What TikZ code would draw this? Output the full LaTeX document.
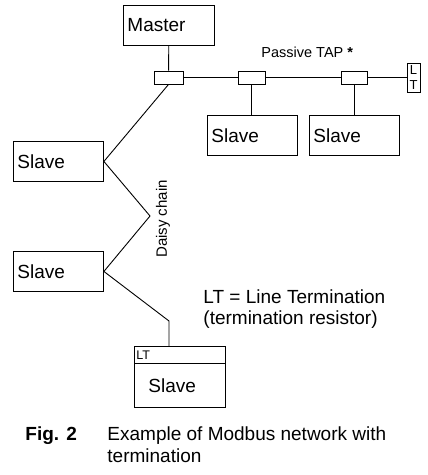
\documentclass[tikz,border=0pt]{standalone}
\usepackage{fontspec}
\setmainfont{Liberation Sans}
\begin{document}
\begin{tikzpicture}[x=1pt,y=-1pt,line width=0.9pt,
	box/.style={draw,rectangle,minimum height=40pt,text width=83pt,inner xsep=4pt,align=left,font=\fontsize{19}{22}\selectfont},
	tap/.style={draw,rectangle,minimum height=13pt,inner sep=0pt},
	note/.style={font=\fontsize{19}{22}\selectfont,inner sep=0pt}]
		\useasboundingbox (0,0) rectangle (428,475);
		\coordinate (zigA) at (150,216);
		\coordinate (zigB) at (169,321);
		\node[box,anchor=north west] (master) at (123,5) {Master};
		\node[tap,minimum width=29pt] (tapA) at (168.5,77.5) {};
		\node[tap,minimum width=27pt] (tapB) at (251.5,77.5) {};
		\node[tap,minimum width=26pt] (tapC) at (354,77.5) {};
		\node[draw,inner sep=0pt,align=center,minimum width=13pt,minimum height=29pt,font=\fontsize{13}{14.5}\selectfont] (lt) at (413.5,77.5) {L\\T};
		\node[box,anchor=north west,text width=82pt] (slaveB) at (207,115) {Slave};
		\node[box,anchor=north west,text width=82pt] (slaveC) at (309,115) {Slave};
		\node[box,anchor=north west,text width=82pt] (slaveD) at (13,141) {Slave};
		\node[box,anchor=north west,text width=82pt] (slaveE) at (13,251) {Slave};
		\node[draw,anchor=north west,minimum height=17pt,text width=87pt,inner xsep=2pt,inner ysep=1pt,align=left,font=\fontsize{12.5}{14}\selectfont] (termhead) at (134,346) {LT};
		\node[box,draw=none,anchor=north,minimum height=43pt,text width=63pt,inner xsep=14pt] (term) at (termhead.south) {Slave};
		\draw (termhead.south west) |- (term.south east) -- (termhead.south east);
		\draw (master) to (tapA);
		\draw (tapA) to (tapB);
		\draw (tapB) to (tapC);
		\draw (tapC) to (lt);
		\draw (tapB) to (tapB |- slaveB.north);
		\draw (tapC) to (tapC |- slaveC.north);
		\draw (tapA.south) to (slaveD.east) to (zigA) to (slaveE.east) to (zigB) to (zigB |- termhead.north);
		\node[note,anchor=base west,font=\fontsize{14.5}{16}\selectfont] (tapname) at (261,57) {Passive TAP {\bfseries*}};
		\node[note,rotate=90,font=\fontsize{15}{17}\selectfont] (daisy) at (163,219) {Daisy chain};
		\node[note,anchor=base west] (legendA) at (203,303) {LT = Line Termination};
		\node[note,anchor=base west] (legendB) at (203,324) {(termination resistor)};
		\node[note,anchor=base west] (fig) at (25,440) {\bfseries Fig. 2};
		\node[note,anchor=base west] (captionA) at (107,440) {Example of Modbus network with};
		\node[note,anchor=base west] (captionB) at (107,462) {termination};
	\end{tikzpicture}
\end{document}
